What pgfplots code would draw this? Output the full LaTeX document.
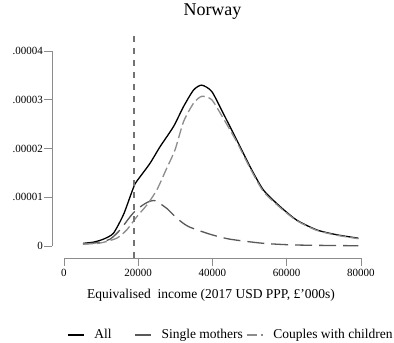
\documentclass[border=0pt]{standalone}
\usepackage{pgfplots}
\pgfplotsset{compat=1.18}
\usepackage{fontspec}
\setmainfont{Liberation Serif}
\definecolor{axgray}{gray}{0.55}
\definecolor{smgray}{gray}{0.35}
\definecolor{cpgray}{gray}{0.55}
\definecolor{vlgray}{gray}{0.45}
\begin{document}
\begin{tikzpicture}
\useasboundingbox (-64pt,-97pt) rectangle (330pt,246pt);
\begin{axis}[
  at={(0pt,0pt)}, anchor=south west,
  scale only axis, width=297pt, height=195pt,
  xmin=0, xmax=80000, ymin=0, ymax=0.00004,
  clip=false,
  axis lines*=left,
  axis x line shift=12pt,
  axis y line shift=12pt,
  axis line style={draw=axgray, line width=0.8pt},
  major tick style={draw=axgray, line width=0.8pt},
  tick align=outside,
  major tick length=7.5pt,
  scaled x ticks=false, scaled y ticks=false,
  xtick={0,20000,40000,60000,80000},
  xticklabels={0,20000,40000,60000,80000},
  ytick={0,0.00001,0.00002,0.00003,0.00004},
  yticklabels={0,.00001,.00002,.00003,.00004},
  tick label style={font=\fontsize{11}{13}\selectfont},
  yticklabel style={inner sep=1.5pt},
  xticklabel style={inner sep=3pt},
  xlabel={Equivalised\ \ income (2017 USD PPP, £’000s)},
  xlabel style={at={(axis description cs:0.4949,-0.2667)}, anchor=base, font=\fontsize{13.5}{16}\selectfont},
  title={Norway},
  title style={at={(axis description cs:0.5,1.1538)}, anchor=base, font=\fontsize{18}{21}\selectfont},
  legend columns=3,
  legend style={draw=none, fill=none, inner sep=0pt, outer sep=0pt,
    nodes={inner sep=0pt, outer sep=0pt},
    at={(axis description cs:0.0101,-0.456)}, anchor=west,
    font=\fontsize{13.5}{16}\selectfont,
    /tikz/every odd column/.append style={column sep=10pt},
    /tikz/every even column/.append style={column sep=3pt}},
  legend image code/.code={\draw[#1] (0pt,0pt) -- (16pt,0pt);},
]
\addplot[black, line width=1.3pt, smooth, tension=0.4] coordinates {
(5200,5.5e-7) (8000,8e-7) (10600,1.4e-6) (13300,2.6e-6) (16000,6.4e-6)
(17800,1.01e-5) (19100,1.27e-5) (20500,1.42e-5) (23200,1.70e-5) (25900,2.04e-5)
(29500,2.45e-5) (32200,2.86e-5) (34900,3.20e-5) (37100,3.30e-5) (39800,3.17e-5)
(42900,2.72e-5) (46500,2.18e-5) (50100,1.63e-5) (53700,1.15e-5) (58200,8.1e-6)
(62700,5.3e-6) (68100,3.3e-6) (73500,2.3e-6) (79300,1.6e-6)};
\addlegendentry{\makebox[37pt][l]{All}}
\addplot[smgray, line width=1.3pt, dash pattern=on 17pt off 7pt, smooth, tension=0.4] coordinates {
(5100,4e-7) (9000,7e-7) (12400,1.4e-6) (15100,3.3e-6) (17800,6.0e-6)
(19600,7.5e-6) (22300,8.9e-6) (24500,9.3e-6) (27700,7.7e-6) (30400,5.7e-6)
(33500,4.0e-6) (39400,2.4e-6) (44700,1.4e-6) (53700,5.5e-7) (62700,2e-7) (79300,5e-8)};
\addlegendentry{Single mothers}
\addplot[cpgray, line width=1.3pt, dash pattern=on 10pt off 4pt, smooth, tension=0.4] coordinates {
(5100,4e-7) (9700,6e-7) (14200,1.6e-6) (16900,3.3e-6) (19600,6.0e-6)
(22300,8.4e-6) (25000,1.15e-5) (27700,1.60e-5) (29900,1.97e-5) (32200,2.55e-5)
(34900,2.93e-5) (37100,3.07e-5) (39800,3.00e-5) (42900,2.62e-5) (46500,2.14e-5)
(50100,1.60e-5) (53700,1.12e-5) (58200,7.9e-6) (62700,5.2e-6) (68100,3.2e-6)
(73500,2.2e-6) (79300,1.5e-6)};
\addlegendentry{Couples with children}
\addplot[vlgray, line width=1.6pt, dash pattern=on 6pt off 6pt, forget plot] coordinates {
(18870,-0.0000024) (18870,0.0000443)};
\end{axis}
\end{tikzpicture}
\end{document}
